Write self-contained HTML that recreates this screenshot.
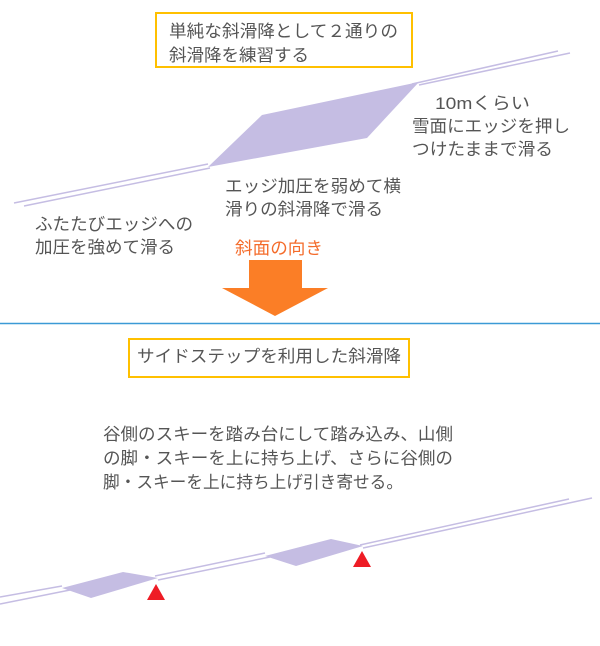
<!DOCTYPE html>
<html><head><meta charset="utf-8"><style>
html,body{margin:0;padding:0;background:#fff;}
svg{display:block;}
text{font-family:"Liberation Sans","Noto Sans CJK JP",sans-serif;fill:#555;font-size:17px;}
</style></head><body>
<svg width="600" height="646" viewBox="0 0 600 646" xmlns="http://www.w3.org/2000/svg">
<rect x="156" y="13" width="256" height="54" fill="none" stroke="#ffc000" stroke-width="2"/>
<text x="169" y="37" textLength="229" lengthAdjust="spacingAndGlyphs">単純な斜滑降として２通りの</text>
<text x="169" y="61" textLength="140" lengthAdjust="spacingAndGlyphs">斜滑降を練習する</text>
<g stroke="#c5bde3" stroke-width="1.5">
<line x1="14" y1="203" x2="208" y2="164"/>
<line x1="24" y1="206" x2="210" y2="168"/>
<line x1="412" y1="84" x2="558" y2="51"/>
<line x1="419" y1="85" x2="570" y2="53"/>
</g>
<polygon points="208,167 262,115 419,82 367,138" fill="#c5bde3"/>
<text x="435" y="109" textLength="95" lengthAdjust="spacingAndGlyphs">10mくらい</text>
<text x="412" y="132" textLength="158" lengthAdjust="spacingAndGlyphs">雪面にエッジを押し</text>
<text x="412" y="155" textLength="141" lengthAdjust="spacingAndGlyphs">つけたままで滑る</text>
<text x="225" y="192" textLength="176" lengthAdjust="spacingAndGlyphs">エッジ加圧を弱めて横</text>
<text x="225" y="215" textLength="158" lengthAdjust="spacingAndGlyphs">滑りの斜滑降で滑る</text>
<text x="35" y="230" textLength="158" lengthAdjust="spacingAndGlyphs">ふたたびエッジへの</text>
<text x="35" y="253" textLength="140" lengthAdjust="spacingAndGlyphs">加圧を強めて滑る</text>
<text x="235" y="254" textLength="88" lengthAdjust="spacingAndGlyphs" style="fill:#f46b2a">斜面の向き</text>
<polygon points="249,260 302,260 302,288 328,288 275,316 222,288 249,288" fill="#fb7e26"/>
<line x1="0" y1="323.5" x2="600" y2="323.5" stroke="#3b9ad6" stroke-width="1.5"/>
<rect x="129" y="339" width="280" height="38" fill="none" stroke="#ffc000" stroke-width="2"/>
<text x="137" y="362" textLength="264" lengthAdjust="spacingAndGlyphs">サイドステップを利用した斜滑降</text>
<text x="103" y="440" textLength="350" lengthAdjust="spacingAndGlyphs">谷側のスキーを踏み台にして踏み込み、山側</text>
<text x="103" y="464" textLength="350" lengthAdjust="spacingAndGlyphs">の脚・スキーを上に持ち上げ、さらに谷側の</text>
<text x="103" y="488" textLength="300" lengthAdjust="spacingAndGlyphs">脚・スキーを上に持ち上げ引き寄せる。</text>
<g stroke="#c5bde3" stroke-width="1.5">
<line x1="0" y1="597" x2="62" y2="586"/>
<line x1="0" y1="604" x2="70" y2="590"/>
<line x1="155" y1="576" x2="265" y2="553"/>
<line x1="158" y1="580" x2="270" y2="557"/>
<line x1="360" y1="545" x2="569" y2="499"/>
<line x1="363" y1="548" x2="592" y2="498"/>
</g>
<polygon points="62,588 123,572 158,578 91,598" fill="#c5bde3"/>
<polygon points="265,556 331,539 363,546 296,566" fill="#c5bde3"/>
<polygon points="156,584 147,600 165,600" fill="#ee1c25"/>
<polygon points="362,551 353,567 371,567" fill="#ee1c25"/>
</svg>
</body></html>
